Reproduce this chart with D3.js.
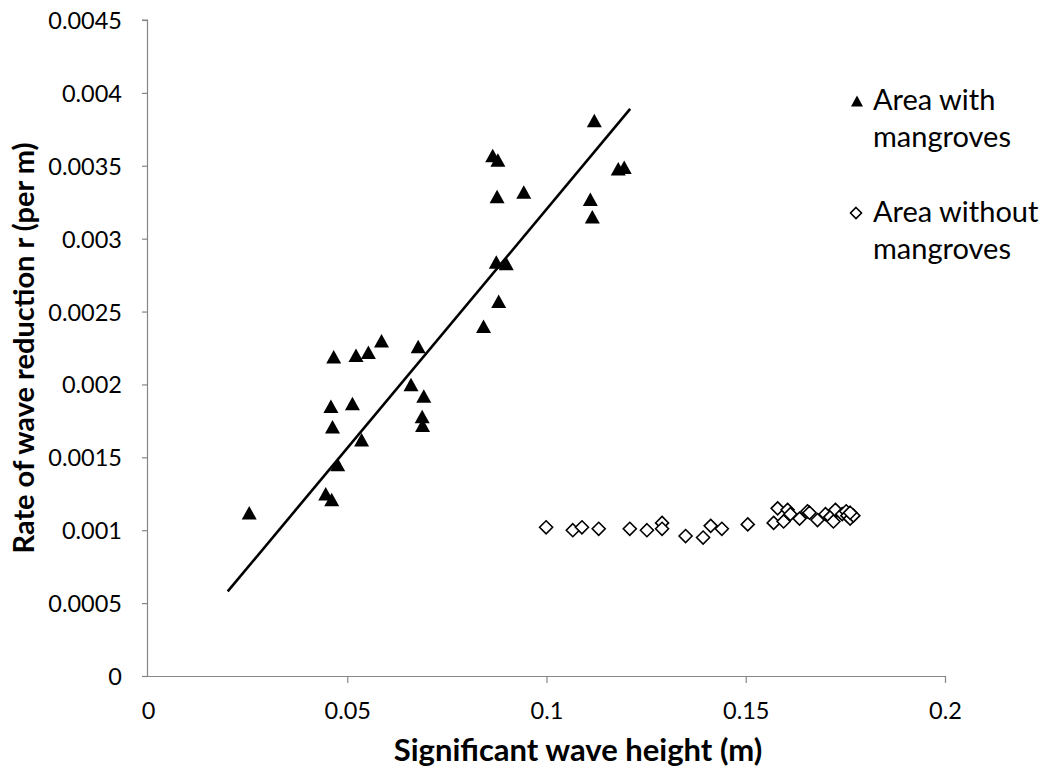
<!DOCTYPE html>
<html>
<head>
<meta charset="utf-8">
<script src="https://cdn.jsdelivr.net/npm/d3@7"></script>
<style>
	body { margin: 0; background: #fff; }
	svg { display: block; }
</style>
</head>
<body>
<svg id="chart"></svg>
<script>
// area with mangroves (triangles)
let withX = [0.0254, 0.0446, 0.0461, 0.0476, 0.0536, 0.0463, 0.0459, 0.0513, 0.0466, 0.0522,
	0.0553, 0.0586, 0.0678, 0.0660, 0.0692, 0.0688, 0.0689, 0.0842, 0.0865, 0.0878,
	0.0876, 0.0943, 0.0874, 0.0899, 0.0880, 0.1120, 0.1180, 0.1195, 0.1110, 0.1115]
let withY = [0.00112, 0.00125, 0.00121, 0.00145, 0.00162, 0.00171, 0.00185, 0.00187, 0.00219, 0.00220,
	0.00222, 0.00230, 0.00226, 0.00200, 0.00192, 0.00178, 0.00172, 0.00240, 0.00357, 0.00354,
	0.00329, 0.00332, 0.00284, 0.00283, 0.00257, 0.00381, 0.00348, 0.00349, 0.00327, 0.00315]

// area without mangroves (diamonds)
let withoutX = [0.0999, 0.1066, 0.1089, 0.1131, 0.1209, 0.1252, 0.1290, 0.1290, 0.1349, 0.1393,
	0.1412, 0.1440, 0.1505, 0.1570, 0.1580, 0.1595, 0.1605, 0.1612, 0.1635, 0.1655,
	0.1660, 0.1680, 0.1700, 0.1712, 0.1720, 0.1725, 0.1742, 0.1752, 0.1755, 0.1762,
	0.1770, 0.1762]
let withoutY = [0.00102, 0.00100, 0.00102, 0.00101, 0.00101, 0.00100, 0.00105, 0.00101, 0.00096, 0.00095,
	0.00103, 0.00101, 0.00104, 0.00105, 0.00115, 0.00106, 0.00114, 0.00111, 0.00108, 0.00113,
	0.00112, 0.00107, 0.00111, 0.00109, 0.00106, 0.00114, 0.00111, 0.00113, 0.00110, 0.00108,
	0.00110, 0.00112]

// linear trend line for the mangrove series
let trendX = [0.02, 0.121]
let trendY = [0.00058, 0.00389]

let xTicks = [0, 0.05, 0.1, 0.15, 0.2]
let xTickLabels = ['0', '0.05', '0.1', '0.15', '0.2']
let yTicks = [0, 0.0005, 0.001, 0.0015, 0.002, 0.0025, 0.003, 0.0035, 0.004, 0.0045]
let yTickLabels = ['0', '0.0005', '0.001', '0.0015', '0.002', '0.0025', '0.003', '0.0035', '0.004', '0.0045']

let legendLabels = [['Area with', 'mangroves'], ['Area without', 'mangroves']]

const W = 1048, H = 769
const font = 'Lato, "Open Sans", sans-serif'
const axisCol = '#868686'

let svg = d3.select('#chart').attr('width', W).attr('height', H)

let x = d3.scaleLinear().domain([0, 0.2]).range([148, 945])
let y = d3.scaleLinear().domain([0, 0.0045]).range([676, 20])

// axes
let xAxis = svg.append('g')
	.attr('transform', `translate(0, ${y(0)})`)
	.call(d3.axisBottom(x).tickValues(xTicks).tickSize(7).tickFormat((d, i) => xTickLabels[i]))
let yAxis = svg.append('g')
	.attr('transform', `translate(${x(0)}, 0)`)
	.call(d3.axisLeft(y).tickValues(yTicks).tickSize(6).tickFormat((d, i) => yTickLabels[i]))

svg.selectAll('.domain').attr('stroke', axisCol).attr('stroke-width', 1.2)
xAxis.select('.domain').attr('d', `M${x(0) - 6},0.5H${x(0.2)}`)
yAxis.select('.domain').attr('d', `M-0.5,${y(0)}V${y(0.0045)}H-6`)
svg.selectAll('.tick line').attr('stroke', axisCol).attr('stroke-width', 1.2)
svg.selectAll('.tick text')
	.attr('font-family', font).attr('font-size', 23.5).attr('fill', '#000')
xAxis.selectAll('.tick text').attr('y', 26).attr('dy', '0.71em')
yAxis.selectAll('.tick text').attr('x', -26).attr('dy', '0.36em')
xAxis.selectAll('.tick').filter((d, i) => i === 0).select('line').remove()

// trend line
let trend = trendX.map((v, i) => ({ x: v, y: trendY[i] }))
svg.append('path')
	.datum(trend)
	.attr('d', d3.line().x(d => x(d.x)).y(d => y(d.y)))
	.attr('fill', 'none')
	.attr('stroke', '#000')
	.attr('stroke-width', 2.6)

// markers
function triPath(s) {
	let h = s * 0.9
	return `M0,${-h / 2}L${s / 2},${h / 2}L${-s / 2},${h / 2}Z`
}
function diaPath(r) {
	return `M0,${-r}L${r},0L0,${r}L${-r},0Z`
}

svg.append('g').selectAll('path')
	.data(withoutX.map((v, i) => ({ x: v, y: withoutY[i] }))).enter()
	.append('path')
	.attr('d', diaPath(6.5))
	.attr('transform', d => `translate(${x(d.x)}, ${y(d.y)})`)
	.attr('fill', '#fff')
	.attr('stroke', '#000')
	.attr('stroke-width', 1.6)

svg.append('g').selectAll('path')
	.data(withX.map((v, i) => ({ x: v, y: withY[i] }))).enter()
	.append('path')
	.attr('d', triPath(15))
	.attr('transform', d => `translate(${x(d.x)}, ${y(d.y)})`)
	.attr('fill', '#000')

// legend
let legend = svg.append('g').attr('id', 'legend')
legend.append('path').attr('d', triPath(12)).attr('transform', 'translate(857, 101)').attr('fill', '#000')
legend.append('path').attr('d', diaPath(5.5)).attr('transform', 'translate(856, 213)')
	.attr('fill', '#fff').attr('stroke', '#000').attr('stroke-width', 1.6)

legend.selectAll('text')
	.data(legendLabels).enter().append('text')
	.attr('x', 873)
	.attr('y', (d, i) => 110 + i * 112)
	.attr('font-family', font)
	.attr('font-size', 29)
	.selectAll('tspan')
	.data(d => d).enter().append('tspan')
	.attr('x', 873)
	.attr('dy', (d, i) => i ? 37 : 0)
	.text(d => d)

// axis titles
svg.append('text')
	.attr('x', 578).attr('y', 761)
	.attr('text-anchor', 'middle')
	.attr('font-family', font).attr('font-weight', 'bold').attr('font-size', 31)
	.text('Significant wave height (m)')

svg.append('text')
	.attr('transform', 'translate(34, 348) rotate(-90)')
	.attr('text-anchor', 'middle')
	.attr('font-family', font).attr('font-weight', 'bold').attr('font-size', 29)
	.text('Rate of wave reduction r (per m)')
</script>
</body>
</html>
